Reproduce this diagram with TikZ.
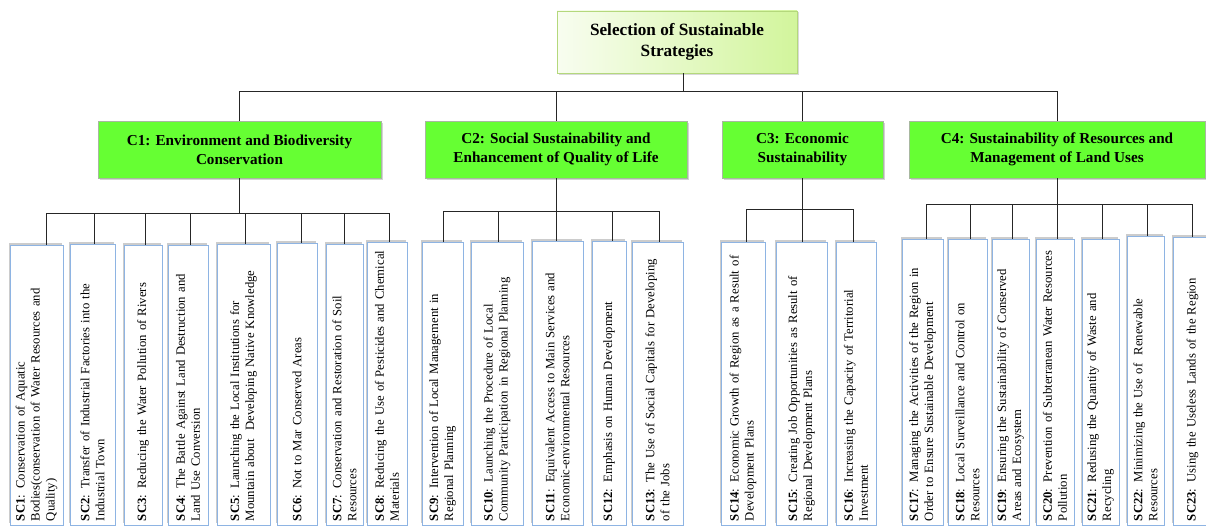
\documentclass[tikz,border=0pt]{standalone}
\usepackage{fontspec}
\setmainfont{Liberation Serif}
\usepackage{tikz}
\usetikzlibrary{shadows}
\definecolor{leafline}{HTML}{8EB4E3}
\definecolor{critfill}{HTML}{66FF33}
\definecolor{critline}{HTML}{A8B8A0}
\definecolor{goalleft}{HTML}{F8FDF0}
\definecolor{goalright}{HTML}{D2F59C}
\definecolor{goalline}{HTML}{B4D87C}

\begin{document}
\begin{tikzpicture}[x=1pt,y=-1pt,
  goal/.style={draw=goalline,line width=0.8pt,left color=goalleft,right color=goalright,
    align=center,font=\fontsize{17.2}{21}\selectfont\bfseries,
    drop shadow={shadow xshift=1.5pt,shadow yshift=-1.5pt,opacity=.3}},
  crit/.style={draw=critline,line width=0.6pt,fill=critfill,align=center,
    font=\fontsize{15.2}{19}\selectfont\bfseries,
    drop shadow={shadow xshift=1.5pt,shadow yshift=-1.5pt,opacity=.35}},
  leaf/.style={draw=leafline,line width=0.9pt,fill=white,rotate=90,align=left,
    inner xsep=4pt,inner ysep=2pt,font=\fontsize{12.7}{15}\selectfont,
    drop shadow={shadow xshift=-1pt,shadow yshift=2.5pt,opacity=.4}},
  link/.style={draw=black!85,line width=1pt}]
  \useasboundingbox (0,0) rectangle (1206,527);

  \node[goal,minimum width=240pt,minimum height=62pt] (top) at (677,42)
    {Selection of Sustainable\\Strategies};

  \node[crit,minimum width=283pt,minimum height=57pt] (c1) at (239.5,149.5)
    {C1: Environment and Biodiversity\\Conservation};
  \node[crit,minimum width=262pt,minimum height=57pt] (c2) at (556,149.5)
    {C2: Social Sustainability and\\Enhancement of Quality of Life};
  \node[crit,minimum width=161pt,minimum height=57pt] (c3) at (802.5,149.5)
    {C3: Economic\\Sustainability};
  \node[crit,minimum width=296pt,minimum height=57pt] (c4) at (1057,149.5)
    {C4: Sustainability of Resources and\\Management of Land Uses};

  \coordinate (b0) at (683,91);
  \draw[link] ([xshift=6pt]top.south) -- (b0);
  \foreach \i in {1,...,4}
    \draw[link] (b0) -| (c\i.north);

  \coordinate (b1) at (239.5,213);
  \coordinate (b2) at (556,211);
  \coordinate (b3) at (802.5,209);
  \coordinate (b4) at (1057,204);
  \foreach \i in {1,...,4}
    \draw[link] (c\i.south) -- (b\i);

  \foreach \n/\l/\r/\t/\cx/\txt in {
    1/10/63/245/46/{\textbf{SC1}: Conservation of Aquatic\\Bodies(conservation of Water Resources and\\Quality)},
    2/70/115/244/94/{\textbf{SC2}: Transfer of Industrial Factories into the\\Industrial Town},
    3/124/162/245/145/{\textbf{SC3}: Reducing the Water Pollution of Rivers},
    4/168/208/245/190/{\textbf{SC4}: The Battle Against Land Destruction and\\Land Use Conversion},
    5/217/270/244/245/{\textbf{SC5}: Launching the Local Institutions for\\Mountain about\ \ Developing Native Knowledge},
    6/277/317/243/301/{\textbf{SC6}: Not to Mar Conserved Areas},
    7/326/363/244/344/{\textbf{SC7}: Conservation and Restoration of Soil\\Resources},
    8/367/407/242/389/{\textbf{SC8}: Reducing the Use of Pesticides and Chemical\\Materials}}{
    \pgfmathsetmacro\h{525-\t}
    \pgfmathsetmacro\w{\r-\l}
    \pgfmathsetmacro\tw{\h-8}
    \pgfmathsetmacro\dx{\cx-(\l+\r)/2}
    \node[leaf,minimum width=\h pt,minimum height=\w pt,text width=\tw pt]
      (sc\n) at ({(\l+\r)/2},{(\t+525)/2}) {\txt};
    \draw[link] (b1) -| ([xshift=\dx pt]sc\n.east);
  }

  \foreach \n/\l/\r/\t/\cx/\txt in {
    9/422/463/242/443/{\textbf{SC9}: Intervention of Local Management in\\Regional Planning},
    10/471/523/242/498/{\textbf{SC10}: Launching the Procedure of Local\\Community Participation in Regional Planning},
    11/532/583/241/556/{\textbf{SC11}: Equivalent Access to Main Services and\\Economic-environmental Resources},
    12/592/626/241/612/{\textbf{SC12}: Emphasis on Human Development},
    13/632/683/242/659/{\textbf{SC13}: The Use of Social Capitals for Developing\\of the Jobs}}{
    \pgfmathsetmacro\h{525-\t}
    \pgfmathsetmacro\w{\r-\l}
    \pgfmathsetmacro\tw{\h-8}
    \pgfmathsetmacro\dx{\cx-(\l+\r)/2}
    \node[leaf,minimum width=\h pt,minimum height=\w pt,text width=\tw pt]
      (sc\n) at ({(\l+\r)/2},{(\t+525)/2}) {\txt};
    \draw[link] (b2) -| ([xshift=\dx pt]sc\n.east);
  }

  \foreach \n/\l/\r/\t/\cx/\txt in {
    14/721/765/242/746/{\textbf{SC14}: Economic Growth of Region as a Result of\\Development Plans},
    15/776/827/242/802.5/{\textbf{SC15}: Creating Job Opportunities as Result of\\Regional Development Plans},
    16/836/876/242/853/{\textbf{SC16}: Increasing the Capacity of Territorial\\Investment}}{
    \pgfmathsetmacro\h{525-\t}
    \pgfmathsetmacro\w{\r-\l}
    \pgfmathsetmacro\tw{\h-8}
    \pgfmathsetmacro\dx{\cx-(\l+\r)/2}
    \node[leaf,minimum width=\h pt,minimum height=\w pt,text width=\tw pt]
      (sc\n) at ({(\l+\r)/2},{(\t+525)/2}) {\txt};
    \draw[link] (b3) -| ([xshift=\dx pt]sc\n.east);
  }

  \foreach \n/\l/\r/\t/\cx/\txt in {
    17/902/943/239/926/{\textbf{SC17}: Managing the Activities of the Region in\\Order to Ensure Sustainable Development},
    18/948/987/239/970/{\textbf{SC18}: Local Surveillance and Control on\\Resources},
    19/992/1029/239/1012/{\textbf{SC19}: Ensuring the Sustainability of Conserved\\Areas and Ecosystem},
    20/1036/1074/239/1057/{\textbf{SC20}: Prevention of Subterranean Water Resources\\Pollution},
    21/1082/1119/239/1102/{\textbf{SC21}: Redusing the Quantity of Waste and\\Recycling},
    22/1127/1164/236/1147/{\textbf{SC22}: Minimizing the Use of\ \ Renewable\\Resources},
    23/1173/1212/237/1192/{\textbf{SC23}: Using the Useless Lands of the Region}}{
    \pgfmathsetmacro\h{525-\t}
    \pgfmathsetmacro\w{\r-\l}
    \pgfmathsetmacro\tw{\h-8}
    \pgfmathsetmacro\dx{\cx-(\l+\r)/2}
    \node[leaf,minimum width=\h pt,minimum height=\w pt,text width=\tw pt]
      (sc\n) at ({(\l+\r)/2},{(\t+525)/2}) {\txt};
    \draw[link] (b4) -| ([xshift=\dx pt]sc\n.east);
  }
\end{tikzpicture}
\end{document}
